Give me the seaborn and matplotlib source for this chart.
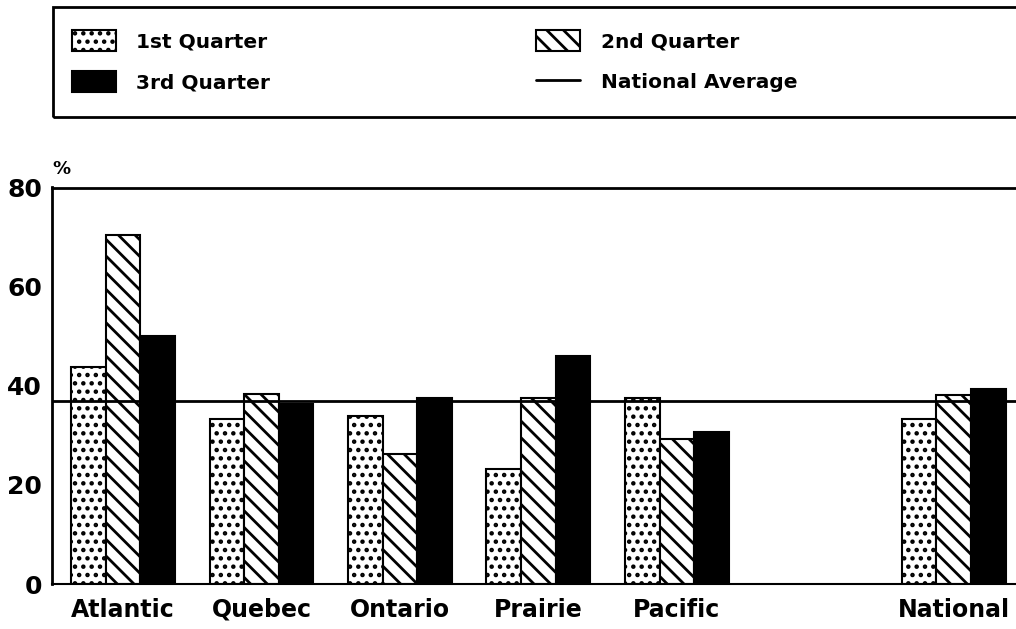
import pandas as pd
import matplotlib
matplotlib.use("Agg")
import matplotlib.pyplot as plt
from matplotlib.patches import Rectangle, Patch
from matplotlib.lines import Line2D
import seaborn as sns

# data
regions = ["Atlantic", "Quebec", "Ontario", "Prairie", "Pacific", "National"]
order = ["Atlantic", "Quebec", "Ontario", "Prairie", "Pacific", " ", "National"]
quarters = ["1st Quarter", "2nd Quarter", "3rd Quarter"]
q1 = [43.7, 33.2, 33.9, 23.3, 37.6, 33.2]
q2 = [70.4, 38.4, 26.2, 37.6, 29.3, 38.1]
q3 = [50.0, 36.4, 37.6, 46.0, 30.7, 39.3]
national_avg = 37.0

df = pd.DataFrame({
    "region": regions * 3,
    "quarter": [quarters[0]] * 6 + [quarters[1]] * 6 + [quarters[2]] * 6,
    "value": q1 + q2 + q3,
})

sns.set_style("white")
plt.rcParams["font.family"] = ["DejaVu Sans"]
plt.rcParams["font.weight"] = "bold"
plt.rcParams["text.color"] = "black"
plt.rcParams["xtick.color"] = "black"
plt.rcParams["ytick.color"] = "black"
plt.rcParams["hatch.linewidth"] = 2.0

fig = plt.figure(figsize=(10.16, 6.29), dpi=100)
ax = fig.add_axes([52 / 1016, 1 - 584 / 629, 1 - 52 / 1016, (584 - 187.5) / 629])

sns.barplot(data=df, x="region", y="value", hue="quarter", order=order,
            hue_order=quarters, width=0.75, dodge=True, ax=ax,
            palette=["white", "white", "black"], edgecolor="black",
            linewidth=1.5, legend=False, saturation=1)

hatches = ["..", "\\\\", ""]
for cont, h in zip(ax.containers, hatches):
    for bar in cont:
        bar.set_hatch(h)

ax.axhline(national_avg, color="black", lw=2, zorder=5)

ax.set_ylim(0, 80)
ax.set_xlim(-0.513, 6.45)
ax.set_yticks([0, 20, 40, 60, 80])
ax.tick_params(axis="y", direction="in", length=9, width=1.5, pad=7, labelsize=18)
ax.tick_params(axis="x", length=0, pad=10, labelsize=17)
ax.set_xlabel("")
ax.set_ylabel("")
for s in ["left", "top"]:
    ax.spines[s].set_color("black")
    ax.spines[s].set_linewidth(2)
ax.spines["bottom"].set_color("black")
ax.spines["bottom"].set_linewidth(1.5)
ax.spines["right"].set_visible(False)

fig.text(52 / 1016, 1 - 174 / 629, "%", fontsize=13, fontweight="bold")

# legend box
fig.patches.append(Rectangle((53 / 1016, 1 - 117 / 629), 1.0, 110 / 629,
                             transform=fig.transFigure, fill=False,
                             edgecolor="black", lw=2))
handles = [
    Patch(facecolor="white", edgecolor="black", hatch="..", lw=1.5),
    Patch(facecolor="black", edgecolor="black", lw=1.5),
    Patch(facecolor="white", edgecolor="black", hatch="\\\\", lw=1.5),
    Line2D([0], [0], color="black", lw=2),
]
labels = ["1st Quarter", "3rd Quarter", "2nd Quarter", "National Average"]
fig.legend(handles, labels, ncol=2, loc="upper left",
           bbox_to_anchor=(72 / 1016, 1 - 30 / 629), frameon=False,
           fontsize=14.5, handlelength=2.2, handleheight=1.2,
           handletextpad=1.0, columnspacing=13.2, labelspacing=1.0,
           borderpad=0, borderaxespad=0)

fig.savefig("out.png", dpi=100)
